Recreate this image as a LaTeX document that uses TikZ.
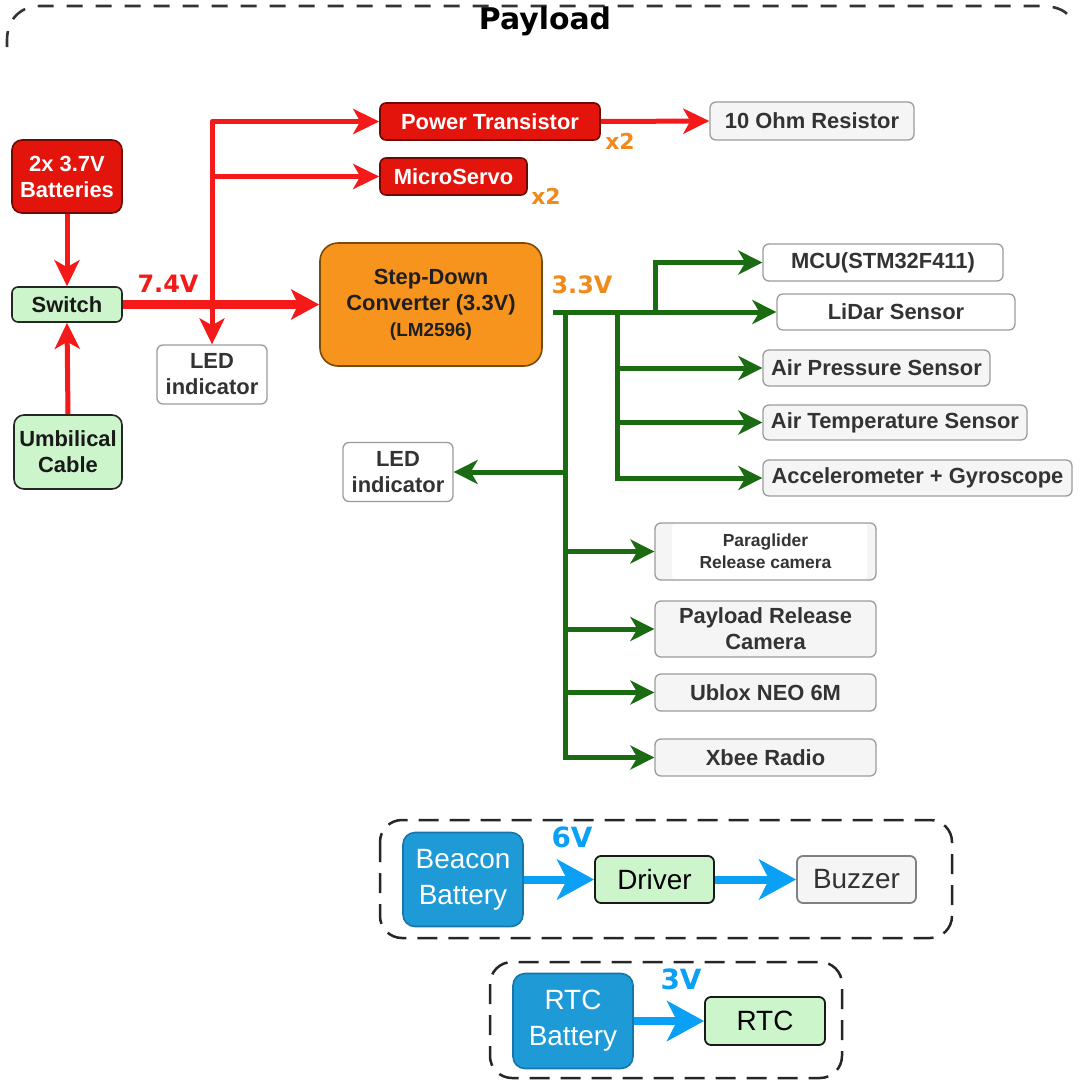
\documentclass[tikz,border=0pt]{standalone}
\usepackage{fontspec}
\setmainfont{Liberation Sans}
\newfontfamily\dvsans{DejaVu Sans}
\usetikzlibrary{arrows.meta}

\definecolor{pwrred}{HTML}{F41A1A}
\definecolor{boxred}{HTML}{E2140C}
\definecolor{boxredline}{HTML}{6E0A05}
\definecolor{convfill}{HTML}{F7941D}
\definecolor{convline}{HTML}{7A4A08}
\definecolor{lgreen}{HTML}{CCF5CC}
\definecolor{dgreen}{HTML}{1A6B12}
\definecolor{lgray}{HTML}{F5F5F5}
\definecolor{gline}{HTML}{9C9C9C}
\definecolor{vorange}{HTML}{F08A1C}
\definecolor{bblue}{HTML}{1E9BD7}
\definecolor{bblueline}{HTML}{1676AA}
\definecolor{ablue}{HTML}{0AA0F5}
\definecolor{txtgray}{HTML}{333333}

\tikzset{
  rtip/.tip={Stealth[length=26bp,width=25bp,inset=7bp]},
  rtipbig/.tip={Stealth[length=28bp,width=30bp,inset=7bp]},
  gtip/.tip={Stealth[length=24bp,width=24bp,inset=7bp]},
  btip/.tip={Stealth[length=37bp,width=40bp,inset=10bp]},
  box/.style={rounded corners=6bp, inner sep=0pt, align=center,
    font=\bfseries\fontsize{22}{26}\selectfont},
  redbox/.style={box, fill=boxred, draw=boxredline, line width=1.6bp, text=white},
  greenbox/.style={box, fill=lgreen, draw=black!85, line width=1.6bp, text=black!90},
  graybox/.style={box, fill=lgray, draw=gline, line width=1.3bp, text=txtgray},
  whitebox/.style={box, fill=white, draw=gline, line width=1.3bp, text=txtgray},
  convbox/.style={box, rounded corners=18bp, fill=convfill, draw=convline,
    line width=1.6bp, text=black!88},
  battbox/.style={rounded corners=12bp, inner sep=0pt, align=center,
    fill=bblue, draw=bblueline, line width=1.6bp, text=white,
    font=\fontsize{28}{36}\selectfont},
  smallbox/.style={rounded corners=6bp, inner sep=0pt, align=center,
    line width=1.8bp, font=\fontsize{28}{32}\selectfont},
  redline/.style={draw=pwrred, line width=5bp, line join=round},
  redthick/.style={draw=pwrred, line width=9bp},
  grline/.style={draw=dgreen, line width=5bp, line join=miter},
  bline/.style={draw=ablue, line width=8bp},
  vlab/.style={inner sep=0pt, font=\dvsans\bfseries\fontsize{24}{24}\selectfont},
  xlab/.style={inner sep=0pt, text=vorange, font=\dvsans\bfseries\fontsize{22}{22}\selectfont},
  blab/.style={inner sep=0pt, text=ablue, font=\dvsans\bfseries\fontsize{28}{28}\selectfont},
  groupframe/.style={draw=black!85, line width=2.5bp, dash pattern=on 20bp off 11bp,
    rounded corners=22bp},
}

\begin{document}
\begin{tikzpicture}[x=1bp,y=-1bp]
\fill[white] (0,0) rectangle (1080,1080);
\useasboundingbox (0,0) rectangle (1080,1080);

% payload enclosure (top edge) and title
\draw[draw=black!80, line width=2.6bp, dash pattern=on 16bp off 13bp]
  (7,47) -- (7,40) .. controls (7,20) and (20,6) .. (40,6) -- (1040,6)
  .. controls (1056,6) and (1064,10) .. (1069,16);
\node[inner sep=0pt, font=\dvsans\bfseries\fontsize{30}{30}\selectfont] (title) at (545,21) {Payload};

% power source side
\node[redbox, rounded corners=10bp, minimum width=110bp, minimum height=73bp] (bat) at (67,176.5) {2x 3.7V\\Batteries};
\node[greenbox, minimum width=110bp, minimum height=35bp] (sw) at (67,304.5) {Switch};
\node[greenbox, rounded corners=10bp, minimum width=108bp, minimum height=74bp] (umb) at (68,452) {Umbilical\\Cable};
\node[whitebox, minimum width=110bp, minimum height=59bp] (led1) at (212,374.5) {LED\\indicator};

% 7.4 V loads
\node[redbox, minimum width=220bp, minimum height=37bp] (pt) at (490,121.5) {Power Transistor};
\node[redbox, minimum width=147bp, minimum height=37bp] (ms) at (453.5,176.5) {MicroServo};
\node[graybox, minimum width=204bp, minimum height=38bp] (res) at (812,121) {10 Ohm Resistor};
\node[xlab] (x2a) at (620,141) {x2};
\node[xlab] (x2b) at (546,196) {x2};

% regulator
\node[convbox, minimum width=222bp, minimum height=123bp] (conv) at (431,304.5)
  {Step-Down\\Converter (3.3V)\\{\fontsize{19}{24}\selectfont(LM2596)}};
\node[vlab, text=pwrred] (v74) at (168,284) {7.4V};
\node[vlab, text=vorange] (v33) at (582,285) {3.3V};

% 3.3 V loads
\node[whitebox, minimum width=240bp, minimum height=37bp] (mcu) at (883,262.5) {MCU(STM32F411)};
\node[whitebox, minimum width=238bp, minimum height=36bp] (lidar) at (896,312) {LiDar Sensor};
\node[graybox, minimum width=227bp, minimum height=36bp] (press) at (876.5,368) {Air Pressure Sensor};
\node[graybox, minimum width=264bp, minimum height=35bp] (temp) at (895,422.5) {Air Temperature Sensor};
\node[graybox, minimum width=309bp, minimum height=36bp] (acc) at (917.5,478) {Accelerometer + Gyroscope};
\node[whitebox, minimum width=110bp, minimum height=59bp] (led2) at (398,472) {LED\\indicator};
\node[graybox, minimum width=221bp, minimum height=57bp,
  font=\bfseries\fontsize{17.5}{22}\selectfont,
  path picture={\fill[white] ([xshift=17bp,yshift=-1bp]path picture bounding box.south west)
    rectangle ([xshift=-9bp,yshift=1bp]path picture bounding box.north east);}]
  (para) at (765.5,551.5) {Paraglider\\Release camera};
\node[graybox, minimum width=221bp, minimum height=56bp] (prc) at (765.5,629) {Payload Release\\Camera};
\node[graybox, minimum width=221bp, minimum height=37bp] (ublox) at (765.5,692.5) {Ublox NEO 6M};
\node[graybox, minimum width=221bp, minimum height=37bp] (xbee) at (765.5,757.5) {Xbee Radio};

% red wiring
\draw[redline, -rtip] (bat.south) -- (sw.north);
\draw[redline, -rtip] (umb.north) -- (sw.south);
\draw[redthick, -rtipbig] (sw.east) -- (conv.west);
\coordinate (rtop) at (212,121.5);
\draw[redline, rtip-rtip] (led1.north) -- (rtop) -- (pt.west);
\draw[redline, -rtip] (rtop |- ms.west) -- (ms.west);
\draw[redline, -rtip] (pt.east) -- (res.west);

% green 3.3 V bus
\coordinate (g0) at (553,312);
\coordinate (gv) at (565,312);
\coordinate (gs) at (617,312);
\coordinate (gm) at (655,312);
\draw[grline, -gtip] (g0) -- (lidar.west);
\draw[grline, -gtip] (gm) |- (mcu.west);
\draw[grline, -gtip] (gs) |- (acc.west);
\draw[grline, -gtip] (gs |- press.west) -- (press.west);
\draw[grline, -gtip] (gs |- temp.west) -- (temp.west);
\draw[grline, -gtip] (gv) |- (xbee.west);
\draw[grline, -gtip] (gv |- led2.east) -- (led2.east);
\draw[grline, -gtip] (gv |- para.west) -- (para.west);
\draw[grline, -gtip] (gv |- prc.west) -- (prc.west);
\draw[grline, -gtip] (gv |- ublox.west) -- (ublox.west);

% beacon group
\draw[groupframe] (380,820) rectangle (952,938);
\node[battbox, minimum width=120bp, minimum height=94bp] (bb) at (463,879.5) {Beacon\\Battery};
\node[smallbox, fill=lgreen, draw=black!90, minimum width=119bp, minimum height=47bp] (drv) at (654.5,879.5) {Driver};
\node[smallbox, fill=lgray, draw=gray, text=txtgray, minimum width=119bp, minimum height=47bp] (buz) at (856.5,879.5) {Buzzer};
\node[blab] (v6) at (572,837) {6V};
\draw[bline, -btip] (bb.east) -- (drv.west);
\draw[bline, -btip] (drv.east) -- (buz.west);

% RTC group
\draw[groupframe] (490,962) rectangle (842,1078);
\node[battbox, minimum width=120bp, minimum height=95bp] (rb) at (573,1021) {RTC\\Battery};
\node[smallbox, fill=lgreen, draw=black!90, minimum width=120bp, minimum height=48bp] (rtc) at (765,1021) {RTC};
\node[blab] (v3) at (681,979) {3V};
\draw[bline, -btip] (rb.east) -- (rtc.west);
\end{tikzpicture}
\end{document}
